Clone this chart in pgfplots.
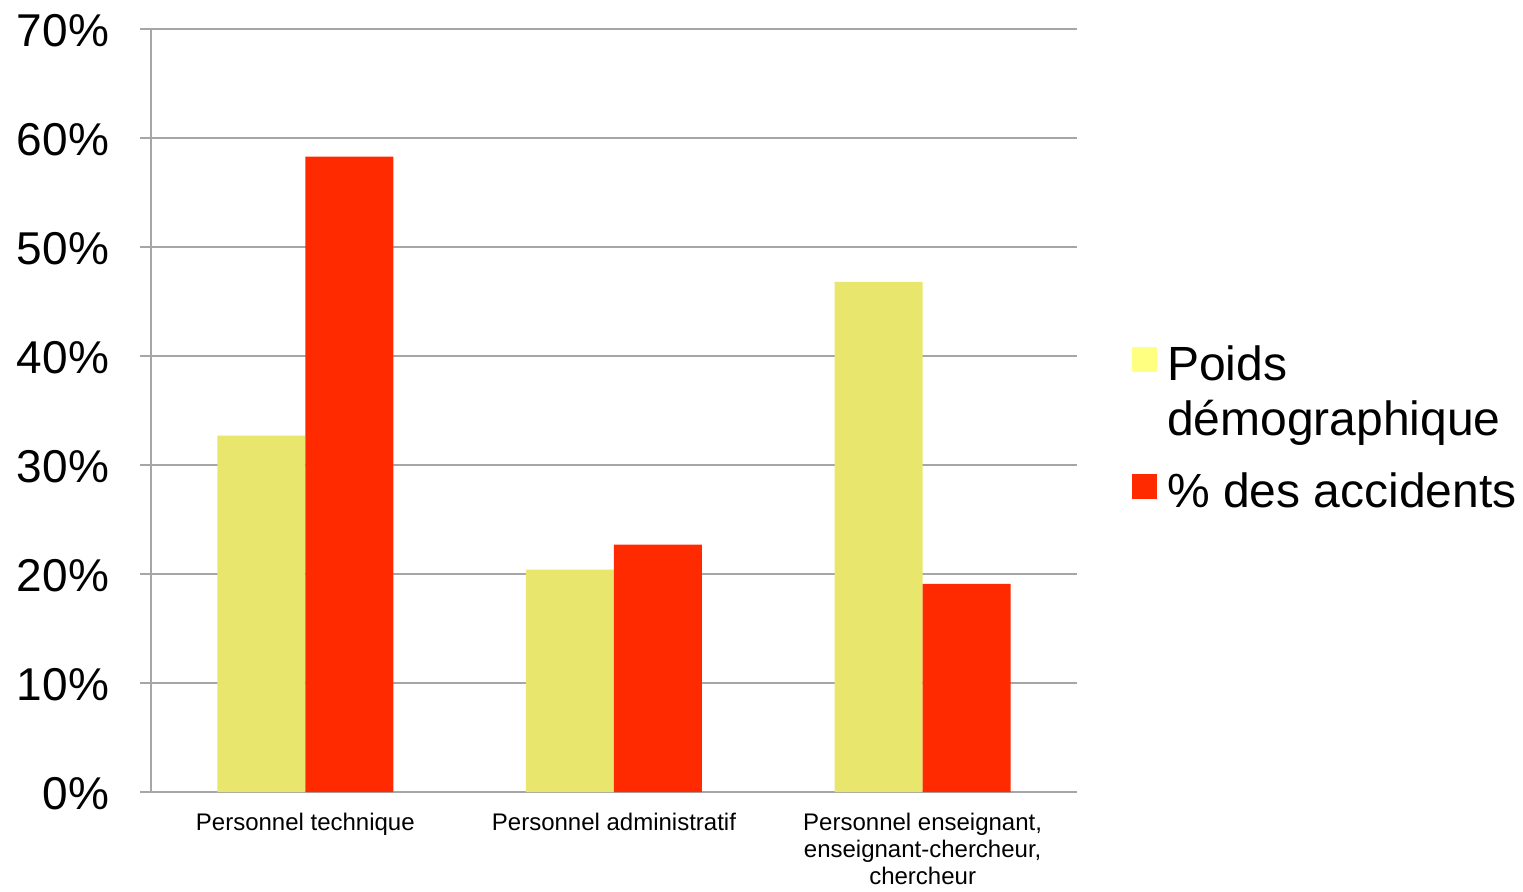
\documentclass[border=0pt]{standalone}
\usepackage{pgfplots}
\pgfplotsset{compat=1.18}
\usepackage{fontspec}
\setmainfont{Liberation Sans}
\definecolor{ybarc}{HTML}{E8E66C}
\definecolor{ylegend}{HTML}{FFFF80}
\definecolor{rbarc}{HTML}{FF2A00}
\definecolor{gridc}{HTML}{A6A6A6}
\begin{document}
\begin{tikzpicture}
\useasboundingbox (-75.5pt,-49.5pt) rectangle (686pt,396pt);
\begin{axis}[name=ax, at={(0,0)}, anchor=south west, scale only axis, width=463pt, height=381.5pt,
  xmin=-0.5, xmax=2.5, ymin=0, ymax=70,
  ybar=0pt, bar width=44pt,
  axis x line*=bottom, axis y line*=left,
  axis line style={draw=gridc, line width=1pt, -},
  ymajorgrids, grid style={gridc, line width=1pt},
  ytick={0,10,...,70},
  yticklabel={\pgfmathprintnumber[assume math mode=true]{\tick}\%},
  yticklabel style={font=\fontsize{23}{27}\selectfont, xshift=-12pt, yshift=-1pt},
  tick align=outside,
  major tick length=5.5pt,
  tick style={draw=gridc, line width=1pt},
  xtick={0,1,2},
  xticklabels={Personnel technique, Personnel administratif, {Personnel enseignant,\\enseignant-chercheur,\\chercheur}},
  xticklabel style={font=\fontsize{12}{13.6}\selectfont, align=center, yshift=-1.5pt},
  x tick style={draw=none},
  extra x ticks={-0.5,0.5,1.5,2.5},
  extra x tick labels={},
  extra x tick style={grid=none, major tick length=4pt, tick style={draw=gridc, line width=1pt}},
  legend style={at={(1.059,0.477)}, anchor=west, xshift=-3pt, draw=none, fill=none,
    font=\fontsize{24}{27.5}\selectfont, nodes={align=left}, row sep=13pt},
  legend cell align=left,
]
\addplot[draw=none, fill=ybarc, legend image code/.code={\fill[ylegend] (0pt,10pt) rectangle (12.5pt,22.5pt); \path (15.5pt,10pt);}]
  coordinates {(0,32.7) (1,20.4) (2,46.8)};
\addplot[draw=none, fill=rbarc, legend image code/.code={\fill[rbarc] (0pt,-4pt) rectangle (12.5pt,8.5pt); \path (15.5pt,0pt);}]
  coordinates {(0,58.3) (1,22.7) (2,19.1)};
\legend{{Poids\\démographique}, {\% des accidents}}
\end{axis}
\end{tikzpicture}
\end{document}
